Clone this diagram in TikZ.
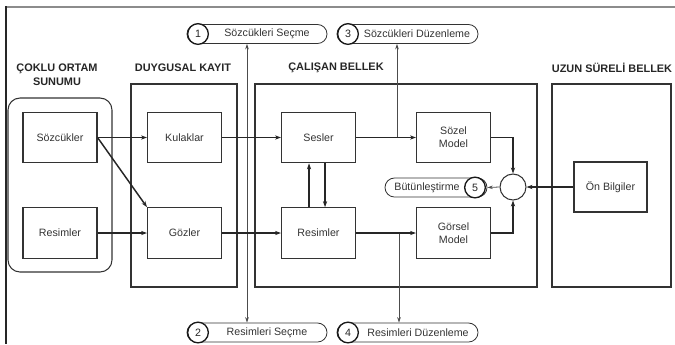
\documentclass[tikz,border=0pt]{standalone}
\usepackage{fontspec}
\setmainfont{Liberation Sans}
\usetikzlibrary{arrows.meta}

\begin{document}
\begin{tikzpicture}[x=0.75pt,y=0.75pt,yscale=-1,xscale=1,
	font=\fontsize{8}{10}\selectfont,
	blok/.style={draw=black!80,line width=0.8pt,minimum width=55.5pt,minimum height=38pt,inner sep=0pt,align=center,text=black!80},
	kutu/.style={draw=black!80,line width=0.8pt},
	baslik/.style={font=\fontsize{8.2}{10.5}\selectfont\bfseries,text=black!85,align=center,inner sep=0pt},
	hap/.style={draw=black!80,line width=0.6pt,rounded corners=7.1pt,minimum height=14.25pt,inner sep=0pt},
	numara/.style={draw=black!90,line width=1pt,circle,fill=white,minimum size=15.5pt,inner sep=0pt,text=black!85},
	etiket/.style={inner sep=0pt,text=black!80},
	kalin/.style={draw=black!85,line width=1.1pt,-{Stealth[length=4.5pt,width=3.2pt]}},
	ince/.style={draw=black!70,line width=0.6pt}]
	\useasboundingbox (0,0) rectangle (675,344);
	\draw [black!45,line width=1.6pt] (6,7) -- (675,7) ;
	\draw [black!85,line width=1.2pt] (6,6) -- (6,344) ;
	\draw (57,75) node [baslik] (b1) {ÇOKLU ORTAM\\SUNUMU};
	\draw (183,68) node [baslik] (b2) {DUYGUSAL KAYIT};
	\draw (336,68) node [baslik] (b3) {ÇALIŞAN BELLEK};
	\draw (612,68) node [baslik] (b4) {UZUN SÜRELİ BELLEK};
	\draw [kutu,rounded corners=9pt] (8,98) rectangle (112,272) ;
	\draw [kutu] (131,84) rectangle (237,287) ;
	\draw [kutu] (255,84) rectangle (537,287) ;
	\draw [kutu] (552,84) rectangle (671,287) ;
	\draw (60,137.5) node [blok] (soz) {Sözcükler};
	\draw (60,233) node [blok] (res1) {Resimler};
	\draw (184.5,137.5) node [blok] (kul) {Kulaklar};
	\draw (184.5,233) node [blok] (goz) {Gözler};
	\draw (318.5,137.5) node [blok] (ses) {Sesler};
	\draw (318.5,233) node [blok] (res2) {Resimler};
	\draw (453.5,137.5) node [blok] (sozel) {Sözel\\Model};
	\draw (453.5,233) node [blok] (gorsel) {Görsel\\Model};
	\draw (610.5,187) node [blok,minimum width=54.75pt,minimum height=37.5pt] (onb) {Ön Bilgiler};
	\draw (513,187) node [draw=black!80,line width=0.8pt,circle,minimum size=19.5pt,inner sep=0pt] (birl) {};
	\draw (257,34) node [hap,minimum width=105pt] (p1) {};
	\draw (407.5,34) node [hap,minimum width=105.75pt] (p3) {};
	\draw (257,332.5) node [hap,minimum width=105pt] (p2) {};
	\draw (407.5,332.5) node [hap,minimum width=105.75pt] (p4) {};
	\draw (436,187.5) node [hap,minimum width=76.5pt] (p5) {};
	\draw (198,34) node [numara] (n1) {1};
	\draw (348,34) node [numara] (n3) {3};
	\draw (198,332.5) node [numara] (n2) {2};
	\draw (348,332.5) node [numara] (n4) {4};
	\draw (475,187.5) node [numara] (n5) {5};
	\draw (267,34) node [etiket] (t1) {Sözcükleri Seçme};
	\draw (417,34) node [etiket] (t3) {Sözcükleri Düzenleme};
	\draw (267,332.5) node [etiket] (t2) {Resimleri Seçme};
	\draw (418,332.5) node [etiket] (t4) {Resimleri Düzenleme};
	\draw (427,187.5) node [etiket] (t5) {Bütünleştirme};
	\coordinate (d1) at (247,137.5);
	\coordinate (d3) at (397,137.5);
	\coordinate (d4) at (399,233);
	\draw [ince,{Stealth[length=4pt,width=2.6pt]}-{Stealth[length=4pt,width=2.6pt]}] (p1.south -| d1) -- (p2.north -| d1) ;
	\draw [ince,-{Stealth[length=4pt,width=2.6pt]}] (d3) -- (p3.south -| d3) ;
	\draw [ince,-{Stealth[length=4pt,width=2.6pt]}] (d4) -- (p4.north -| d4) ;
	\draw [ince,-{Stealth[length=4pt,width=2.6pt]}] (birl.west) -- (p5.east) ;
	\draw [kalin] (soz.east) -- (kul.west) ;
	\draw [kalin] (soz.east) -- (goz.north west) ;
	\draw [kalin] (res1.east) -- (goz.west) ;
	\draw [kalin] (kul.east) -- (ses.west) ;
	\draw [kalin] (goz.east) -- (res2.west) ;
	\draw [kalin] ([xshift=-7.1pt]res2.north) -- ([xshift=-7.1pt]ses.south) ;
	\draw [kalin] ([xshift=4.9pt]ses.south) -- ([xshift=4.9pt]res2.north) ;
	\draw [kalin] (ses.east) -- (sozel.west) ;
	\draw [kalin] (res2.east) -- (gorsel.west) ;
	\draw [kalin] (sozel.east) -| (birl.north) ;
	\draw [kalin] (gorsel.east) -| (birl.south) ;
	\draw [kalin] (onb.west) -- (birl.east) ;
\end{tikzpicture}
\end{document}
